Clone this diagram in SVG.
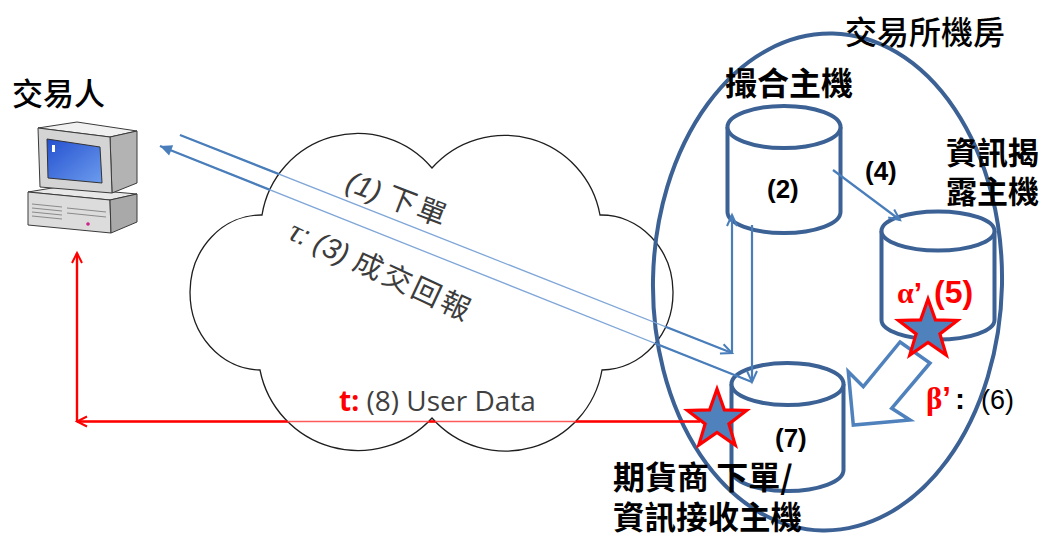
<svg xmlns="http://www.w3.org/2000/svg" xmlns:xlink="http://www.w3.org/1999/xlink" width="1045" height="534" viewBox="0 0 1045 534">
  <style>
    .cjk { font-family: "Noto Sans CJK TC", "Noto Sans CJK SC", sans-serif; fill: #000; }
    .bold { font-weight: 700; }
    .med { font-weight: 500; }
    .lbl { font-size: 32px; }
    .num { font-family: "Liberation Sans", Arial, sans-serif; font-weight: 700; font-size: 26px; fill: #000; }
    .cloudTxt { font-family: "Noto Sans CJK TC", sans-serif; font-size: 29px; fill: #3c3c3c; }
    .lat { font-family: "Liberation Sans", Arial, sans-serif; font-style: italic; }
    .cyl { fill: #fff; stroke: #3B6195; stroke-width: 4; }
    .wire { fill: none; stroke: #4A7EBB; stroke-width: 2.2; }
    .wireRed { fill: none; stroke: #FF0000; stroke-width: 2.4; }
    .thinBlue { fill: none; stroke: #7FA6D8; stroke-width: 1.3; }
    .thinRed { fill: none; stroke: #FF5A5A; stroke-width: 1.3; }
    .red { fill: #FF0000; }
  </style>
  <defs>
    <path id="cloudShape" d="M262,215 A97,97 0 0 1 432,168 A97,97 0 0 1 600,215 A72,77.5 0 0 1 602,370 A98,98 0 0 1 432,418 A100,100 0 0 1 260,370 A71,77.5 0 0 1 262,215 Z"/>
    <mask id="offCloud" maskUnits="userSpaceOnUse" x="0" y="0" width="1045" height="534">
      <rect x="0" y="0" width="1045" height="534" fill="#fff"/>
      <use xlink:href="#cloudShape" fill="#000"/>
    </mask>
    <marker id="vBlue" markerUnits="userSpaceOnUse" viewBox="-14 -8 16 16" markerWidth="16" markerHeight="16" refX="0" refY="0" orient="auto" overflow="visible">
      <path d="M-11,-5 L0,0 L-11,5" fill="none" stroke="#4A7EBB" stroke-width="2"/>
    </marker>
    <marker id="triBlue" markerUnits="userSpaceOnUse" viewBox="-14 -8 16 16" markerWidth="16" markerHeight="16" refX="0" refY="0" orient="auto" overflow="visible">
      <path d="M-12,-5.5 L0,0 L-12,5.5 Z" fill="#4A7EBB"/>
    </marker>
    <marker id="vRed" markerUnits="userSpaceOnUse" viewBox="-14 -8 16 16" markerWidth="16" markerHeight="16" refX="0" refY="0" orient="auto" overflow="visible">
      <path d="M-10,-5 L0,0 L-10,5" fill="none" stroke="#FF0000" stroke-width="2"/>
    </marker>
    <polygon id="star" points="0,-31 7.35,-10.11 29.48,-9.58 11.89,3.86 18.23,25.08 0,12.5 -18.23,25.08 -11.89,3.86 -29.48,-9.58 -7.35,-10.11" fill="#4F81BD" stroke="#FF0000" stroke-width="3.2" stroke-linejoin="miter"/>
    <linearGradient id="screenGrad" x1="0" y1="0" x2="1" y2="1">
      <stop offset="0" stop-color="#2450CF"/>
      <stop offset="1" stop-color="#6C9CEE"/>
    </linearGradient>
  </defs>

  <rect x="0" y="0" width="1045" height="534" fill="#fff"/>

  <!-- network cloud -->
  <g id="cloud">
    <use xlink:href="#cloudShape" fill="#fff" stroke="#1e1e1e" stroke-width="1.3"/>
  </g>

  <!-- exchange machine room boundary -->
  <g id="exchange-room">
    <ellipse cx="827.5" cy="282" rx="174.5" ry="248.5" transform="rotate(1.2 827.5 282)" fill="none" stroke="#3B6195" stroke-width="4"/>
  </g>

  <!-- trader workstation -->
  <g id="trader">
    <polygon points="28,192 58,187 137,194 110,200" fill="#e8e8e8" stroke="#3a3a3a" stroke-width="1"/>
    <polygon points="28,192 110,200 111,233 28,225" fill="#dcdcdc" stroke="#3a3a3a" stroke-width="1"/>
    <polygon points="110,200 137,194 137,222 111,233" fill="#a9a9a9" stroke="#3a3a3a" stroke-width="1"/>
    <g stroke="#8a8a8a" stroke-width="1">
      <line x1="32" y1="204" x2="62" y2="207"/>
      <line x1="32" y1="208" x2="62" y2="211"/>
      <line x1="32" y1="212" x2="62" y2="215"/>
      <line x1="32" y1="216" x2="62" y2="219"/>
      <line x1="67" y1="208" x2="106" y2="212"/>
      <line x1="67" y1="213" x2="106" y2="217"/>
    </g>
    <circle cx="88" cy="224" r="1.8" fill="#D0208A"/>
    <polygon points="38,128 77,122 137,131 110,137" fill="#f0f0f0" stroke="#3a3a3a" stroke-width="1"/>
    <polygon points="110,137 137,131 137,183 112,193" fill="#b3b3b3" stroke="#3a3a3a" stroke-width="1"/>
    <polygon points="38,128 110,137 112,193 40,187" fill="#d4d4d4" stroke="#3a3a3a" stroke-width="1"/>
    <polygon points="47,139 100,147 102,183 48,178" fill="url(#screenGrad)" stroke="#333" stroke-width="1"/>
    <rect x="52" y="145" width="3" height="7" fill="#fff"/>
  </g>

  <!-- matching engine -->
  <g id="matching-host">
    <path class="cyl" d="M727.5,127 L727.5,212 A56.5,21 0 0 0 840.5,212 L840.5,127"/>
    <ellipse class="cyl" cx="784" cy="127" rx="56.5" ry="21"/>
  </g>

  <!-- information dissemination host -->
  <g id="info-host">
    <path class="cyl" d="M881.5,231 L881.5,320 A56.5,19.5 0 0 0 994.5,320 L994.5,231"/>
    <ellipse class="cyl" cx="938" cy="231" rx="56.5" ry="19.5"/>
  </g>

  <!-- broker order / info receiving host -->
  <g id="broker-host">
    <path class="cyl" d="M731.5,384 L731.5,470 A56,21 0 0 0 843.5,470 L843.5,384"/>
    <ellipse class="cyl" cx="787.5" cy="384" rx="56" ry="21"/>
  </g>

  <!-- connectors -->
  <g id="connectors">
    <!-- faint strokes where lines run through the cloud -->
    <path class="thinBlue" d="M180,135 L732,353"/>
    <path class="thinBlue" d="M752,382 L160,146"/>
    <path class="thinRed" d="M700,421.5 L77,421.5"/>
    <g mask="url(#offCloud)">
      <path class="wire" d="M180,135 L732,353" stroke-width="2.6" marker-end="url(#vBlue)"/>
      <path class="wire" d="M752,382 L160,146" stroke-width="2.6" marker-end="url(#triBlue)"/>
      <path class="wireRed" d="M700,421.5 L77,421.5" marker-end="url(#vRed)"/>
    </g>
    <path class="wire" d="M732,353 L732,215" marker-end="url(#vBlue)"/>
    <path class="wire" d="M752,225 L752,382" marker-end="url(#vBlue)"/>
    <path class="wire" d="M833,170 L900,220" marker-end="url(#vBlue)"/>
    <path class="wireRed" d="M77,421.5 L77,253" marker-end="url(#vRed)"/>
    <!-- dissemination feed block arrow -->
    <polygon points="900,342 930,363 891.7,408.3 910,420 853.3,425 848.3,371.7 863.3,386.7" fill="#fff" stroke="#4F81BD" stroke-width="3.5" stroke-linejoin="miter"/>
  </g>

  <!-- latency markers -->
  <g id="marker-alpha">
    <use xlink:href="#star" transform="translate(928,330)"/>
  </g>
  <g id="marker-t">
    <use xlink:href="#star" transform="translate(717,420)"/>
  </g>

  <!-- labels -->
  <g id="labels">
    <text class="cjk med" x="12" y="104.5" font-size="31">交易人</text>
    <text class="cjk med lbl" x="845" y="44">交易所機房</text>
    <text class="cjk bold lbl" x="725" y="94.5">撮合主機</text>
    <text class="cjk bold" font-size="31" x="946" y="164">資訊揭</text>
    <text class="cjk bold" font-size="31" x="946" y="203">露主機</text>
    <text class="cjk bold lbl" x="613" y="489">期貨商 下單/</text>
    <text class="cjk bold" font-size="31.5" x="613" y="528.5">資訊接收主機</text>

    <text class="num" x="767" y="197.5">(2)</text>
    <text class="num" x="865" y="179.5">(4)</text>
    <text class="num" x="775" y="447">(7)</text>

    <text x="897" y="303" font-size="30" font-weight="700" class="red"><tspan font-family="Liberation Serif, serif">α</tspan><tspan font-family="Liberation Sans, Arial, sans-serif">’</tspan></text>
    <text x="934" y="303" font-size="32" font-weight="700" font-family="Liberation Sans, Arial, sans-serif" class="red">(5)</text>

    <text x="926" y="408.5" font-size="31" font-weight="700" class="red"><tspan font-family="Liberation Serif, serif">β</tspan><tspan font-family="Liberation Sans, Arial, sans-serif">’</tspan></text>
    <text x="955" y="408.5" font-size="30" font-weight="700" font-family="Liberation Sans, Arial, sans-serif" fill="#000">:</text>
    <text x="981" y="409" font-size="27" font-family="Liberation Sans, Arial, sans-serif" fill="#000">(6)</text>

    <text class="cloudTxt" transform="translate(344,189.5) rotate(21)"><tspan class="lat">(1) </tspan><tspan letter-spacing="3">下單</tspan></text>
    <text class="cloudTxt" transform="translate(286.5,238.2) rotate(25)"><tspan font-family="Liberation Serif, serif" font-style="italic" font-size="32">τ</tspan><tspan class="lat">: (3) </tspan><tspan letter-spacing="3">成交回報</tspan></text>

    <text x="339" y="411" font-size="28" font-family="Open Sans, Liberation Sans, sans-serif" fill="#404040"><tspan font-weight="700" fill="#FF0000">t:</tspan> (8) User Data</text>
  </g>
</svg>
